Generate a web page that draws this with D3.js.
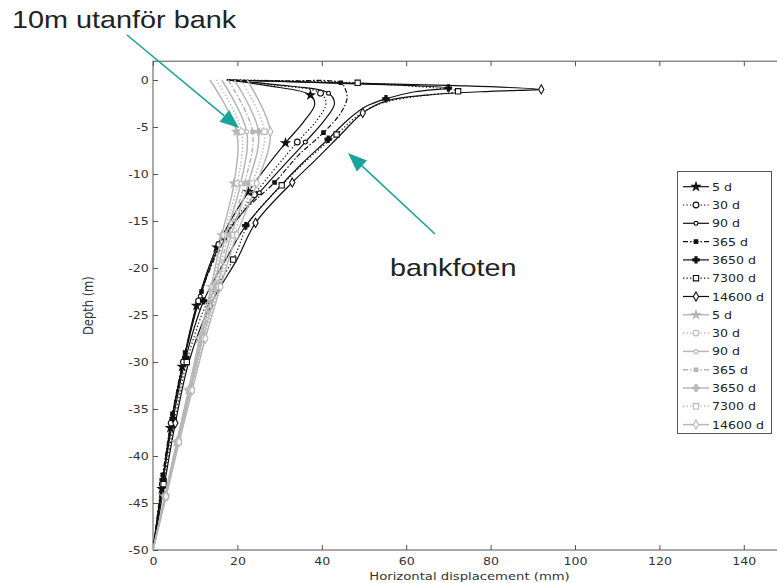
<!DOCTYPE html>
<html>
<head>
<meta charset="utf-8">
<script src="https://cdn.jsdelivr.net/npm/d3@7"></script>
<style>
  body { margin: 0; background: #fff; }
  svg { display: block; }
</style>
</head>
<body>
<svg id="chart" width="777" height="583"></svg>
<script>
// Time steps shown for both profiles
const times = ["5 d", "30 d", "90 d", "365 d", "3650 d", "7300 d", "14600 d"];

// Profile at the toe of the bank ("bankfoten"): [horizontal displacement (mm), depth (m)]
const toe5 = [[0,-50],[2.1,-43.5],[4.1,-37],[6.9,-30.5],[10.3,-24],[15.1,-17.8],[22.6,-11.9],[31.4,-6.7],[35.6,-4.5],[38.3,-2.6],[37.3,-1.6],[27,-0.6],[17.5,0]];
const toe30 = [[0,-50],[2.2,-43],[4.3,-36.5],[7.2,-30],[10.8,-23.5],[15.6,-17.5],[24,-12.2],[34.2,-6.6],[38.8,-4.3],[41,-2.5],[39.7,-1.4],[28,-0.5],[17.5,0]];
const toe90 = [[0,-50],[2.3,-42.5],[4.5,-36],[7.5,-29.5],[11.2,-23],[16.2,-17.2],[25.2,-12],[36.1,-6.6],[40.6,-4.3],[43,-2.5],[41.6,-1.4],[29,-0.5],[17.5,0]];
const toe365 = [[0,-50],[2.3,-42],[4.6,-35.5],[7.6,-29],[11.5,-22.5],[17,-16.8],[21.5,-14],[28.8,-10.9],[34.5,-8],[40.4,-5.6],[44.5,-3.5],[46,-1.9],[45.5,-0.9],[44.5,-0.3],[30,-0.1],[17.5,0]];
const toe3650 = [[0,-50],[2.4,-42.5],[4.8,-36],[7.8,-29.5],[12,-23.5],[18,-18.5],[22,-15.5],[29.5,-11.6],[35.5,-8.8],[41.5,-6.3],[46,-4.3],[50.5,-2.8],[55.2,-2.0],[62,-1.25],[70,-0.85],[45,-0.35],[17.5,0]];
const toe7300 = [[0,-50],[2.5,-43],[5,-36.5],[8,-30],[12.5,-24],[19,-19.1],[23,-15],[30.5,-11.2],[37,-8.3],[43.5,-5.8],[48.5,-3.8],[54,-2.5],[63,-1.7],[72.3,-1.2],[48.5,-0.3],[17.5,0]];
const toe14600 = [[0,-50],[2.7,-43],[5.3,-36.5],[8.5,-30],[13.5,-24],[20,-19],[24.3,-15.2],[33,-10.9],[39.2,-8.2],[44.5,-5.8],[49.7,-3.5],[55.5,-2.2],[65,-1.6],[80,-1.2],[92,-1.0],[72,-0.6],[44,-0.3],[17.5,0]];

// Which points of each toe profile carry a marker
const toeMarks = [
  [1,2,3,4,5,6,7,10],
  [1,2,3,4,5,6,7,10],
  [1,2,3,4,5,6,7,10],
  [1,2,3,4,5,7,9,13],
  [1,2,3,4,6,9,12,14],
  [1,3,5,7,9,13,14],
  [2,4,6,7,10,14]
];

// Profile 10 m outside the bank: depths (m) and displacements (mm)
const outDepths = [0,-5.5,-11,-16.5,-22,-27.5,-33,-38.5,-44.3,-50];
const out5 = [13.5,19.8,19.2,16.3,13.8,11.0,8.4,5.6,2.8,0];
const out30 = [15.0,21.0,20.0,16.8,14.1,11.2,8.5,5.7,2.85,0];
const out90 = [16.3,22.2,20.8,17.3,14.4,11.4,8.7,5.8,2.9,0];
const out365 = [17.8,23.6,21.7,17.9,14.8,11.6,8.8,5.9,2.95,0];
const out3650 = [19.3,25.0,22.6,18.5,15.2,11.8,8.9,6.0,3.0,0];
const out7300 = [20.8,26.4,23.6,19.1,15.6,12.1,9.1,6.1,3.05,0];
const out14600 = [22.3,27.8,24.6,19.8,16.0,12.4,9.3,6.2,3.1,0];
const outMarks = [1,2,3,4,5,6,7,8];

// Axis ticks
const xTicks = [0,20,40,60,80,100,120,140];
const yTicks = [-50,-45,-40,-35,-30,-25,-20,-15,-10,-5,0];

const toeSeries = [toe5, toe30, toe90, toe365, toe3650, toe7300, toe14600];
const outSeries = [out5, out30, out90, out365, out3650, out7300, out14600]
  .map(vals => vals.map((v, i) => [v, outDepths[i]]));

// Line / marker style per time step (matplotlib-like)
const styles = [
  { dash: null,            sym: d3.symbolStar,    size: 20, filled: true  },
  { dash: "1.3,2.2",       sym: d3.symbolCircle,  size: 26, filled: false },
  { dash: null,            sym: d3.symbolCircle,  size: 12, filled: false },
  { dash: "5,2,1.5,2",     sym: d3.symbolSquare,  size: 12, filled: true  },
  { dash: null,            sym: d3.symbolCross,   size: 22, filled: true  },
  { dash: "1.3,2.2",       sym: d3.symbolSquare,  size: 28, filled: false },
  { dash: null,            sym: d3.symbolDiamond, size: 24, filled: false }
];

const BLACK = "#111";
const GREY = "#b6b6b6";
const TEAL = "#1aa39a";
const STRETCH = 1.2;

const svg = d3.select("#chart");
svg.append("rect").attr("width", 777).attr("height", 583).attr("fill", "#fff");

const x = d3.scaleLinear().domain([0, 150]).range([153, 786]);
const y = d3.scaleLinear().domain([-50, 2]).range([550, 61.2]);

svg.append("defs").append("clipPath").attr("id", "plotClip")
  .append("rect")
  .attr("x", x(0)).attr("y", y(2))
  .attr("width", x(150) - x(0)).attr("height", y(-50) - y(2));

// Axes with inward ticks
const tickFont = g => g
  .attr("font-family", "DejaVu Sans, sans-serif")
  .attr("font-size", 10.5)
  .call(s => s.selectAll(".tick line").attr("stroke", "#555"))
  .call(s => s.selectAll(".tick text").attr("fill", "#333")
    .attr("transform", `scale(${STRETCH},1)`))
  .call(s => s.select(".domain").remove());

svg.append("g").attr("transform", `translate(0,${y(-50)})`)
  .call(d3.axisBottom(x).tickValues(xTicks).tickSize(-5).tickPadding(8).tickFormat(d => String(d)))
  .call(tickFont);
svg.append("g").attr("transform", `translate(0,${y(2)})`)
  .call(d3.axisTop(x).tickValues(xTicks).tickSize(-5).tickFormat(""))
  .call(tickFont);
svg.append("g").attr("transform", `translate(${x(0)},0)`)
  .call(d3.axisLeft(y).tickValues(yTicks).tickSize(-5).tickPadding(3.6).tickFormat(d => String(d)))
  .call(tickFont);
svg.append("g").attr("transform", `translate(${x(150)},0)`)
  .call(d3.axisRight(y).tickValues(yTicks).tickSize(-5).tickFormat(""))
  .call(tickFont);

// Frame
svg.append("rect")
  .attr("x", x(0)).attr("y", y(2))
  .attr("width", x(150) - x(0)).attr("height", y(-50) - y(2))
  .attr("fill", "none").attr("stroke", "#555").attr("stroke-width", 1);

// Axis titles
svg.append("text")
  .attr("transform", `translate(${(x(0) + x(150)) / 2},580) scale(${STRETCH},1)`)
  .attr("text-anchor", "middle")
  .attr("font-family", "DejaVu Sans, sans-serif").attr("font-size", 11)
  .attr("fill", "#333")
  .text("Horizontal displacement (mm)");
svg.append("text")
  .attr("transform", `translate(93,${(y(2) + y(-50)) / 2}) scale(${STRETCH},1) rotate(-90)`)
  .attr("text-anchor", "middle")
  .attr("font-family", "DejaVu Sans, sans-serif").attr("font-size", 11.5)
  .attr("fill", "#333")
  .text("Depth (m)");

// Profiles
const line = d3.line()
  .x(d => x(d[0])).y(d => y(d[1]))
  .curve(d3.curveCatmullRom.alpha(0.5));

const plot = svg.append("g").attr("clip-path", "url(#plotClip)");

function drawGroup(seriesList, marksFor, color, width) {
  seriesList.forEach((pts, i) => {
    const st = styles[i];
    plot.append("path")
      .datum(pts)
      .attr("d", line)
      .attr("fill", "none")
      .attr("stroke", color)
      .attr("stroke-width", width)
      .attr("stroke-dasharray", st.dash)
      .attr("stroke-linejoin", "round");
  });
  seriesList.forEach((pts, i) => {
    const st = styles[i];
    const sym = d3.symbol().type(st.sym).size(st.size);
    plot.selectAll(null)
      .data(marksFor(i).map(k => pts[k]))
      .join("path")
      .attr("transform", d => `translate(${x(d[0])},${y(d[1])})`)
      .attr("d", sym)
      .attr("fill", st.filled ? color : "#fff")
      .attr("stroke", color)
      .attr("stroke-width", 1.1);
  });
}

drawGroup(toeSeries, i => toeMarks[i], BLACK, 1.2);
drawGroup(outSeries, () => outMarks, GREY, 1.5);

// Legend
const legend = svg.append("g");
legend.append("rect")
  .attr("x", 677.5).attr("y", 171.5).attr("width", 94).attr("height", 262)
  .attr("fill", "#fff").attr("stroke", "#555").attr("stroke-width", 1);

const legendItems = [
  ...times.map((t, i) => ({ label: t, i, color: BLACK, width: 1.2 })),
  ...times.map((t, i) => ({ label: t, i, color: GREY, width: 1.5 }))
];
legendItems.forEach((it, n) => {
  const ly = 186.7 + n * 18.3;
  const st = styles[it.i];
  legend.append("line")
    .attr("x1", 683).attr("x2", 709).attr("y1", ly).attr("y2", ly)
    .attr("stroke", it.color).attr("stroke-width", it.width)
    .attr("stroke-dasharray", st.dash);
  legend.append("path")
    .attr("transform", `translate(696,${ly})`)
    .attr("d", d3.symbol().type(st.sym).size(st.size))
    .attr("fill", st.filled ? it.color : "#fff")
    .attr("stroke", it.color).attr("stroke-width", 1.1);
  legend.append("text")
    .attr("transform", `translate(712,${ly + 4}) scale(${STRETCH},1)`)
    .attr("font-family", "DejaVu Sans, sans-serif").attr("font-size", 10.5)
    .attr("fill", "#222")
    .text(it.label);
});

// Annotations
function arrow(x1, y1, x2, y2) {
  const ang = Math.atan2(y2 - y1, x2 - x1);
  const len = 19, half = 7.5;
  const bx = x2 - len * Math.cos(ang), by = y2 - len * Math.sin(ang);
  svg.append("line")
    .attr("x1", x1).attr("y1", y1).attr("x2", bx).attr("y2", by)
    .attr("stroke", TEAL).attr("stroke-width", 1.6);
  const px = -Math.sin(ang) * half, py = Math.cos(ang) * half;
  svg.append("path")
    .attr("d", `M${x2},${y2}L${bx + px},${by + py}L${bx - px},${by - py}Z`)
    .attr("fill", TEAL);
}
arrow(127, 35, 239, 128);
arrow(435, 234, 348, 153);

svg.append("text")
  .attr("transform", `translate(12,28) scale(${STRETCH},1)`)
  .attr("font-family", "Liberation Sans, Arial, sans-serif").attr("font-size", 24)
  .attr("fill", "#222")
  .text("10m utanför bank");
svg.append("text")
  .attr("transform", `translate(390,276) scale(${STRETCH},1)`)
  .attr("font-family", "Liberation Sans, Arial, sans-serif").attr("font-size", 24)
  .attr("fill", "#222")
  .text("bankfoten");
</script>
</body>
</html>
